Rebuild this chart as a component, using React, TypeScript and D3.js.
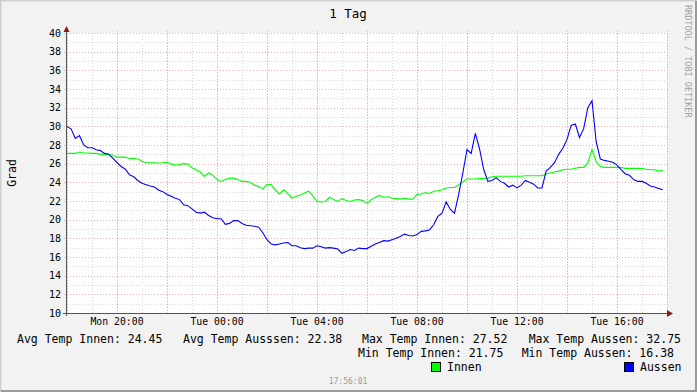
import React from "react";
import * as d3 from "d3";

// 10-minute samples, starting Mon 18:00
const startTime = new Date(2000, 0, 3, 18, 0);
const stepMinutes = 10;

const aussenValues = [
  30.0, 29.7, 28.7, 29.0, 28.0, 27.7, 27.7, 27.5, 27.4, 27.1, 27.0, 26.6,
  26.1, 25.7, 25.4, 24.8, 24.6, 24.2, 23.9, 23.75, 23.6, 23.5, 23.15, 23.0,
  22.7, 22.5, 22.3, 22.15, 21.6, 21.5, 21.15, 20.8, 20.7, 20.8, 20.45, 20.2,
  20.1, 20.1, 19.5, 19.6, 19.9, 19.9, 19.6, 19.4, 19.35, 19.3, 19.2, 18.6,
  17.85, 17.4, 17.3, 17.4, 17.5, 17.55, 17.2, 17.2, 17.0, 16.9, 16.95, 16.95,
  17.2, 17.1, 16.95, 17.0, 16.95, 16.85, 16.4, 16.6, 16.8, 16.7, 16.95, 16.9,
  16.9, 17.15, 17.4, 17.55, 17.75, 17.7, 17.85, 18.0, 18.2, 18.45, 18.3, 18.25,
  18.4, 18.75, 18.8, 18.9, 19.45, 20.35, 20.7, 21.9, 21.1, 20.7, 22.7, 25.0,
  27.5, 27.1, 29.25, 27.6, 25.4, 24.1, 24.2, 24.5, 24.1, 23.9, 23.5, 23.7,
  23.4, 23.7, 24.2, 24.0, 23.8, 23.4, 23.4, 25.2, 25.6, 26.1, 27.0, 27.65,
  28.6, 30.1, 30.25, 28.8, 29.75, 32.0, 32.75, 28.35, 26.5, 26.35, 26.25, 26.15,
  25.85, 25.35, 24.9, 24.75, 24.3, 24.1, 24.1, 23.9, 23.6, 23.5, 23.35, 23.2,
];

const innenValues = [
  27.1, 27.1, 27.1, 27.25, 27.15, 27.15, 27.1, 27.1, 27.0, 27.0, 27.0, 26.9,
  26.7, 26.7, 26.7, 26.55, 26.55, 26.5, 26.25, 26.1, 26.1, 26.1, 26.05, 26.1,
  26.15, 25.95, 25.85, 25.9, 26.0, 25.95, 25.55, 25.35, 25.1, 24.65, 25.0, 24.75,
  24.3, 24.1, 24.3, 24.45, 24.45, 24.3, 24.1, 24.1, 24.0, 23.7, 23.55, 23.3,
  23.75, 23.75, 23.15, 22.75, 23.2, 22.8, 22.3, 22.5, 22.65, 22.85, 23.05, 22.55,
  21.95, 21.9, 21.95, 22.4, 22.15, 21.95, 22.25, 22.05, 21.95, 22.1, 22.15, 22.05,
  21.75, 22.15, 22.4, 22.6, 22.4, 22.45, 22.3, 22.25, 22.2, 22.3, 22.2, 22.2,
  22.7, 22.75, 22.9, 22.8, 23.05, 23.1, 23.2, 23.4, 23.45, 23.45, 23.75, 24.05,
  24.35, 24.35, 24.35, 24.4, 24.4, 24.45, 24.6, 24.65, 24.65, 24.65, 24.65, 24.65,
  24.65, 24.65, 24.7, 24.7, 24.7, 24.7, 24.7, 24.9, 25.0, 25.1, 25.2, 25.35,
  25.4, 25.4, 25.5, 25.6, 25.6, 26.1, 27.52, 26.2, 25.7, 25.6, 25.6, 25.6,
  25.6, 25.6, 25.5, 25.5, 25.5, 25.5, 25.5, 25.4, 25.35, 25.35, 25.2, 25.3,
];

const legendLine1 = [
  "Avg Temp Innen: 24.45",
  "Avg Temp Ausssen: 22.38",
  "Max Temp Innen: 27.52",
  "Max Temp Aussen: 32.75",
];
const legendLine2 = ["Min Temp Innen: 21.75", "Min Temp Aussen: 16.38"];
const seriesNames = ["Innen", "Aussen"];
const seriesColors = ["#00ff00", "#0000ff"];

const W = 697;
const H = 392;
const mono = "'DejaVu Sans Mono', 'Liberation Mono', monospace";

const App = () => {
  const endTime = d3.timeHour.offset(startTime, 24);
  const x = d3.scaleTime().domain([startTime, endTime]).range([67, 667]);
  const y = d3.scaleLinear().domain([10, 40]).range([313, 33]);

  const timeAt = (i: number) => d3.timeMinute.offset(startTime, i * stepMinutes);
  const line = d3
    .line<number>()
    .x((d, i) => x(timeAt(i)))
    .y((d) => y(d));

  const minorX = x.ticks(d3.timeHour.every(1));
  const majorX = x.ticks(d3.timeHour.every(2));
  const labelX = x.ticks(d3.timeHour.every(4));
  const minorY = d3.range(10, 41, 1);
  const majorY = d3.range(10, 41, 2);
  const fmt = d3.timeFormat("%a %H:%M");

  const px = (v: number) => Math.round(v) + 0.5;

  return (
    <svg
      width={W}
      height={H}
      style={{ position: "absolute", left: 0, top: 0 }}
      fontFamily={mono}
    >
      <rect x={0} y={0} width={W} height={H} fill="#f2f2f2" />
      <path d={`M0.5,${H} V0.5 H${W}`} stroke="#cfcfcf" strokeWidth={2} fill="none" />
      <path d={`M1,${H - 1} H${W - 1} V1`} stroke="#9a9a9a" strokeWidth={2} fill="none" />

      <rect x={67} y={33} width={600} height={280} fill="#ffffff" />

      {/* minor grid */}
      <g stroke="#dadada" strokeDasharray="1 2" shapeRendering="crispEdges">
        {minorX.map((t, i) => (
          <line key={"mx" + i} x1={px(x(t))} x2={px(x(t))} y1={33} y2={313} />
        ))}
        {minorY.map((v) => (
          <line key={"my" + v} x1={67} x2={667} y1={px(y(v))} y2={px(y(v))} />
        ))}
      </g>
      {/* major grid */}
      <g stroke="#e8b4b4" strokeDasharray="1 2" shapeRendering="crispEdges">
        {majorX.map((t, i) => (
          <line key={"Mx" + i} x1={px(x(t))} x2={px(x(t))} y1={31} y2={316} />
        ))}
        {majorY.map((v) => (
          <line key={"My" + v} x1={64} x2={668} y1={px(y(v))} y2={px(y(v))} />
        ))}
      </g>

      {/* series */}
      <path d={line(innenValues) || ""} fill="none" stroke={seriesColors[0]} strokeWidth={1.1} />
      <path d={line(aussenValues) || ""} fill="none" stroke={seriesColors[1]} strokeWidth={1.1} />

      {/* axes */}
      <g stroke="#555555" shapeRendering="crispEdges">
        <line x1={66.5} x2={66.5} y1={316} y2={30} />
        <line x1={63} x2={668} y1={313.5} y2={313.5} />
      </g>
      <path d="M63.5,32 L66.5,26 L69.5,32 Z" fill="#8b1a1a" />
      <path d="M667,310 L673,313.5 L667,317 Z" fill="#8b1a1a" />

      {/* y labels */}
      <g fontSize={10} fill="#000" textAnchor="end">
        {majorY.map((v) => (
          <text key={"yl" + v} x={61} y={y(v) + 3.5}>
            {v}
          </text>
        ))}
      </g>
      {/* x labels */}
      <g fontSize={9.8} fill="#000" textAnchor="middle">
        {labelX.map((t, i) => (
          <text key={"xl" + i} x={x(t)} y={325}>
            {fmt(t)}
          </text>
        ))}
      </g>

      <text x={348} y={18} fontSize={12.5} textAnchor="middle" fill="#000">
        1 Tag
      </text>
      <text
        transform="translate(16,173) rotate(-90)"
        fontSize={11.5}
        textAnchor="middle"
        fill="#000"
      >
        Grad
      </text>
      <text
        transform="translate(685,5) rotate(90)"
        fontSize={8.5}
        fill="#a0a0a0"
      >
        RRDTOOL / TOBI OETIKER
      </text>

      {/* legend */}
      <g fontSize={11.5} fill="#000">
        <text x={17} y={343}>{legendLine1[0]}</text>
        <text x={183} y={343}>{legendLine1[1]}</text>
        <text x={362} y={343}>{legendLine1[2]}</text>
        <text x={681} y={343} textAnchor="end">{legendLine1[3]}</text>
        <text x={358} y={357}>{legendLine2[0]}</text>
        <text x={674} y={357} textAnchor="end">{legendLine2[1]}</text>
      </g>
      <g fontSize={11.5} fill="#000">
        <rect x={431.5} y={362.5} width={9} height={9} fill={seriesColors[0]} stroke="#000" />
        <text x={447} y={371}>{seriesNames[0]}</text>
        <rect x={624.5} y={362.5} width={9} height={9} fill={seriesColors[1]} stroke="#000" />
        <text x={640} y={371}>{seriesNames[1]}</text>
      </g>
      <text x={348} y={383.5} fontSize={8} textAnchor="middle" fill="#999">
        17:56:01
      </text>
    </svg>
  );
};

export default App;
